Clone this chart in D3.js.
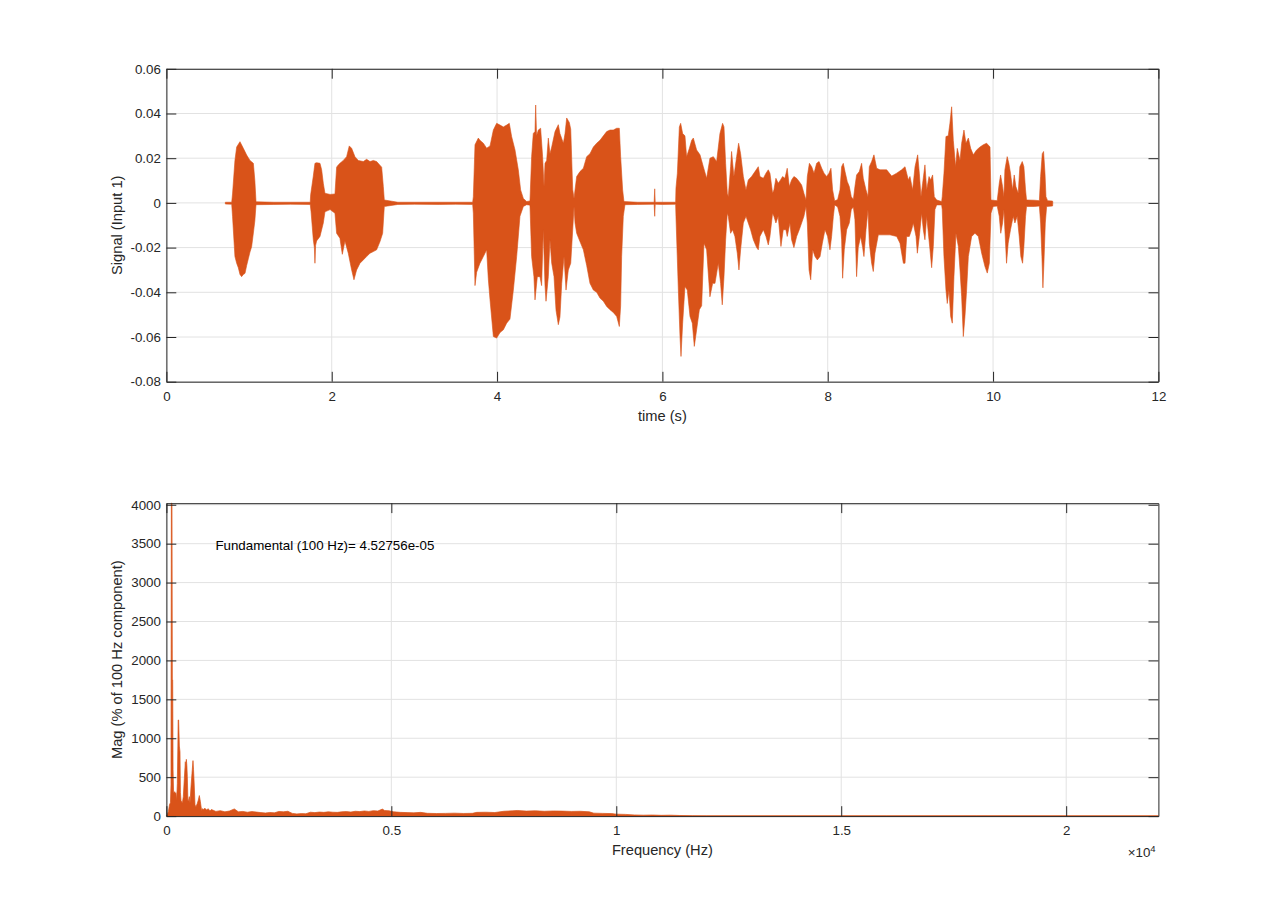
<!DOCTYPE html>
<html><head><meta charset="utf-8">
<script src="https://cdn.jsdelivr.net/npm/d3@7"></script>
<style>
html,body{margin:0;padding:0;background:#fff;}
svg{display:block;}
text{font-family:"Liberation Sans", Arial, Helvetica, sans-serif;}
</style></head><body>
<svg id="chart" width="1280" height="917"></svg>
<script>
// ---------- DATA ----------
// Signal envelope (upper edge), time in s
const sigTopT = [0.713,0.79,0.80,0.829,0.85,0.89,0.931,0.971,1.011,1.052,1.07,1.084,1.30,1.50,1.74,
1.745,1.777,1.797,1.817,1.858,1.878,1.898,1.918,1.98,2.039,2.059,2.079,2.099,2.14,2.18,2.212,2.241,2.281,2.321,2.382,2.422,2.463,2.503,2.543,2.604,2.624,2.636,
2.8,3.0,3.3,3.5,3.705,
3.713,3.733,3.773,3.793,3.834,3.874,3.915,3.955,3.995,4.036,4.076,4.116,4.148,4.176,4.217,4.257,4.285,4.318,4.358,4.398,
4.418,4.438,4.459,4.467,4.478,4.499,4.527,4.551,4.568,4.58,4.6,4.62,4.64,4.661,4.701,4.741,4.761,4.802,4.822,4.842,4.874,4.891,4.915,4.931,
4.943,4.963,5.003,5.044,5.084,5.124,5.165,5.205,5.245,5.286,5.326,5.366,5.406,5.447,5.479,5.495,5.519,5.535,
5.7,5.9,5.907,5.913,6.0,6.16,
6.164,6.181,6.205,6.221,6.245,6.273,6.293,6.326,6.354,6.374,6.414,6.455,6.495,6.535,6.575,6.616,6.656,6.696,6.728,6.745,6.765,6.785,
6.797,6.825,6.837,6.865,6.898,6.922,6.946,6.979,7.011,7.039,7.079,7.12,7.16,7.18,7.221,7.253,7.281,7.301,7.333,
7.349,7.373,7.401,7.429,7.454,7.482,7.51,7.535,7.563,7.591,7.624,7.656,7.684,7.712,7.737,
7.753,7.778,7.806,7.834,7.866,7.895,7.927,7.955,7.987,8.015,8.039,8.059,8.084,8.12,
8.148,8.168,8.188,8.209,8.237,8.261,8.285,8.31,
8.329,8.349,8.382,8.41,8.43,8.463,8.487,
8.503,8.531,8.559,8.592,8.632,8.713,8.773,8.834,8.894,8.935,8.975,8.995,9.027,9.056,9.088,9.108,9.128,9.148,9.176,9.197,9.225,9.245,9.269,9.289,9.318,9.378,
9.385,9.406,9.43,9.458,9.478,9.499,9.519,9.547,9.567,9.6,9.62,9.648,9.672,9.701,9.729,9.761,9.801,9.842,9.882,9.922,9.963,9.975,
10.0,10.05,10.075,10.091,10.115,10.131,10.143,10.171,10.191,10.211,10.236,10.256,10.276,10.304,10.324,10.353,10.373,10.393,10.405,10.5,10.56,
10.575,10.595,10.611,10.628,10.64,10.66,10.72,10.722];
const sigTopV = [0.0003,0.0003,0.004,0.019,0.025,0.0274,0.0244,0.0214,0.019,0.0177,0.010,0.0005,0.0003,0.0003,0.0003,
0.0036,0.012,0.0177,0.018,0.0177,0.0148,0.0088,0.0043,0.0038,0.004,0.016,0.017,0.0177,0.019,0.0207,0.0255,0.0244,0.0207,0.019,0.0185,0.0195,0.0185,0.019,0.0185,0.016,0.0073,0.0013,
0.0003,0.0003,0.0003,0.0003,0.0003,
0.0028,0.026,0.029,0.028,0.0267,0.0245,0.0255,0.0326,0.0356,0.0348,0.034,0.0348,0.0356,0.0297,0.0237,0.0148,0.0058,0.002,0.0006,0.0009,
0.0207,0.031,0.032,0.0438,0.030,0.0326,0.0334,0.0207,0.0073,0.0177,0.019,0.029,0.022,0.025,0.0319,0.035,0.031,0.0267,0.031,0.038,0.036,0.033,0.006,0.002,
0.0058,0.0118,0.014,0.0155,0.0207,0.022,0.025,0.0267,0.028,0.030,0.0319,0.0326,0.0326,0.0334,0.0334,0.0207,0.0058,0.0006,
0.0003,0.0003,0.0063,0.0003,0.0003,0.0003,
0.0066,0.0133,0.034,0.0356,0.031,0.030,0.0207,0.0244,0.028,0.029,0.0237,0.0215,0.0162,0.011,0.020,0.0207,0.0185,0.031,0.0356,0.034,0.0177,0.0043,
0.0028,0.0162,0.023,0.0118,0.0207,0.0267,0.022,0.0118,0.0058,0.0103,0.0118,0.014,0.0162,0.0118,0.011,0.0133,0.0148,0.0133,0.0043,
0.0058,0.011,0.0088,0.0103,0.0118,0.011,0.0155,0.0073,0.0103,0.0118,0.011,0.0095,0.008,0.0043,0.0013,
0.0118,0.0177,0.0162,0.0133,0.0177,0.0185,0.0155,0.0133,0.0118,0.0133,0.0155,0.0058,0.0009,0.0015,
0.0058,0.0162,0.0177,0.014,0.0095,0.0073,0.0028,0.0015,
0.0073,0.0125,0.014,0.0177,0.011,0.0058,0.0028,
0.0162,0.0185,0.0215,0.0155,0.0148,0.0148,0.012,0.0133,0.0148,0.0162,0.0103,0.0118,0.0058,0.0162,0.0215,0.0133,0.0028,0.0088,0.017,0.0058,0.0118,0.0103,0.0125,0.0028,0.0013,0.0006,
0.0028,0.0133,0.0297,0.030,0.0356,0.043,0.028,0.0162,0.0244,0.019,0.0267,0.0326,0.0267,0.029,0.0244,0.0215,0.0237,0.025,0.026,0.0267,0.025,0.0013,
0.0012,0.0010,0.0088,0.0125,0.0073,0.0028,0.0148,0.0207,0.0177,0.0133,0.0058,0.0125,0.0073,0.0043,0.0162,0.0185,0.0162,0.0058,0.0013,0.0012,0.0010,
0.0118,0.022,0.023,0.0133,0.0028,0.0010,0.0008,0.0003];
// Signal envelope (lower edge)
const sigBotT = [0.713,0.79,0.80,0.829,0.85,0.87,0.89,0.91,0.931,0.951,0.971,0.991,1.011,1.031,1.052,1.07,1.084,1.30,1.50,1.74,
1.75,1.777,1.79,1.797,1.805,1.817,1.858,1.898,1.918,1.98,2.039,2.059,2.099,2.128,2.16,2.2,2.241,2.269,2.301,2.342,2.382,2.422,2.463,2.503,2.543,2.584,2.616,2.636,
2.8,3.0,3.3,3.5,3.705,
3.713,3.733,3.753,3.793,3.834,3.874,3.894,3.915,3.955,3.995,4.036,4.076,4.116,4.156,4.197,4.237,4.277,4.318,4.358,4.398,
4.418,4.446,4.459,4.487,4.519,4.539,4.559,4.58,4.592,4.62,4.64,4.661,4.689,4.713,4.741,4.761,4.782,4.81,4.834,4.862,4.891,4.915,4.931,
4.943,4.963,5.003,5.044,5.084,5.124,5.165,5.205,5.245,5.286,5.326,5.366,5.406,5.447,5.479,5.495,5.507,5.527,5.547,
5.7,5.9,5.907,5.913,6.0,6.16,
6.164,6.193,6.213,6.225,6.245,6.273,6.301,6.334,6.362,6.386,6.414,6.447,6.475,6.503,6.535,6.575,6.608,6.636,6.676,6.704,6.724,6.745,6.765,6.785,
6.797,6.825,6.849,6.877,6.906,6.926,6.946,6.979,7.011,7.039,7.067,7.1,7.14,7.16,7.18,7.221,7.253,7.281,7.301,7.333,
7.349,7.373,7.401,7.434,7.462,7.494,7.51,7.543,7.563,7.591,7.624,7.656,7.684,7.712,7.737,
7.753,7.774,7.794,7.818,7.846,7.874,7.907,7.935,7.967,7.999,8.027,8.047,8.068,8.084,8.12,
8.148,8.168,8.18,8.2,8.229,8.261,8.285,8.31,
8.329,8.349,8.369,8.398,8.422,8.438,8.463,8.487,
8.503,8.531,8.551,8.571,8.612,8.673,8.753,8.834,8.874,8.915,8.935,8.955,8.987,9.015,9.035,9.068,9.084,9.108,9.136,9.156,9.176,9.197,9.237,9.257,9.277,9.297,9.318,9.378,
9.385,9.406,9.43,9.446,9.466,9.487,9.507,9.527,9.551,9.58,9.6,9.62,9.64,9.66,9.68,9.701,9.741,9.781,9.822,9.862,9.902,9.93,9.955,9.975,
10.0,10.05,10.075,10.093,10.115,10.131,10.143,10.163,10.183,10.211,10.244,10.264,10.292,10.316,10.336,10.357,10.373,10.393,10.405,10.5,10.56,
10.575,10.591,10.603,10.615,10.632,10.648,10.72,10.722];
const sigBotV = [-0.0005,-0.0006,-0.006,-0.024,-0.027,-0.029,-0.032,-0.033,-0.032,-0.0315,-0.028,-0.025,-0.022,-0.0196,-0.0135,-0.008,-0.0008,-0.0007,-0.0006,-0.0007,
-0.004,-0.0165,-0.020,-0.027,-0.019,-0.017,-0.015,-0.009,-0.004,-0.003,-0.0046,-0.0136,-0.0158,-0.023,-0.017,-0.0225,-0.030,-0.0344,-0.030,-0.027,-0.0255,-0.024,-0.0225,-0.0218,-0.021,-0.0173,-0.0136,-0.0016,
-0.0007,-0.0006,-0.0007,-0.0006,-0.0007,
-0.0046,-0.037,-0.031,-0.027,-0.024,-0.021,-0.034,-0.0434,-0.0598,-0.0605,-0.058,-0.0568,-0.0538,-0.052,-0.039,-0.024,-0.006,-0.0016,-0.0008,-0.0010,
-0.024,-0.033,-0.0434,-0.033,-0.033,-0.037,-0.012,-0.037,-0.044,-0.033,-0.0165,-0.027,-0.033,-0.048,-0.0545,-0.051,-0.036,-0.024,-0.039,-0.030,-0.027,-0.012,-0.0016,
-0.009,-0.0136,-0.0173,-0.021,-0.028,-0.036,-0.039,-0.040,-0.0426,-0.044,-0.0463,-0.0478,-0.049,-0.0508,-0.0553,-0.046,-0.024,-0.006,-0.0008,
-0.0007,-0.0006,-0.006,-0.0006,-0.0007,-0.0006,
-0.006,-0.039,-0.0598,-0.0687,-0.0538,-0.0374,-0.039,-0.0508,-0.0538,-0.0642,-0.0568,-0.0478,-0.046,-0.018,-0.021,-0.042,-0.036,-0.036,-0.027,-0.036,-0.0456,-0.033,-0.0165,-0.0046,
-0.006,-0.0136,-0.012,-0.015,-0.0225,-0.030,-0.021,-0.009,-0.006,-0.009,-0.012,-0.0165,-0.020,-0.021,-0.015,-0.012,-0.015,-0.0188,-0.015,-0.0046,
-0.006,-0.009,-0.006,-0.0195,-0.012,-0.012,-0.015,-0.009,-0.0165,-0.020,-0.015,-0.012,-0.009,-0.006,-0.0016,
-0.009,-0.030,-0.0344,-0.021,-0.024,-0.0255,-0.024,-0.018,-0.012,-0.015,-0.021,-0.015,-0.006,-0.0009,-0.0018,
-0.006,-0.0165,-0.0337,-0.021,-0.012,-0.009,-0.003,-0.0018,
-0.0075,-0.033,-0.020,-0.015,-0.020,-0.024,-0.012,-0.003,
-0.018,-0.027,-0.0307,-0.0225,-0.0143,-0.0143,-0.0143,-0.015,-0.018,-0.027,-0.027,-0.015,-0.015,-0.012,-0.009,-0.015,-0.0225,-0.015,-0.0046,-0.012,-0.0165,-0.006,-0.021,-0.029,-0.0195,-0.003,-0.0009,-0.0009,
-0.003,-0.024,-0.039,-0.045,-0.039,-0.0508,-0.0538,-0.033,-0.0136,-0.0195,-0.030,-0.042,-0.0598,-0.0508,-0.039,-0.024,-0.015,-0.0136,-0.015,-0.0225,-0.0285,-0.0314,-0.027,-0.0046,
-0.0016,-0.0014,-0.006,-0.0136,-0.009,-0.003,-0.012,-0.027,-0.018,-0.012,-0.006,-0.009,-0.006,-0.015,-0.024,-0.027,-0.0195,-0.006,-0.0016,-0.0016,-0.0014,
-0.009,-0.024,-0.038,-0.027,-0.009,-0.0016,-0.0014,-0.0003];

// Spectrum: frequency (Hz) and magnitude (% of 100 Hz component)
const specF = [0,20,45,70,90,102,110,124,132,140,148,160,184,200,213,228,243,255,262,272,288,302,312,325,354,376,399,421,432,443,455,465,478,488,510,525,547,569,591,603,614,636,658,688,710,732,754,784,800,821,858,895,930,969,1000,1100,1200,1300,1400,1510,1600,1700,1800,1900,2000,2100,2200,2300,2400,2500,2600,2700,2800,2900,3000,3100,3200,3300,3400,3500,3600,3700,3800,3900,4000,4100,4200,4300,4400,4500,4600,4700,4800,4850,4950,5050,5200,5350,5500,5650,5800,6000,6200,6400,6600,6800,6900,7100,7300,7500,7700,7800,8000,8200,8400,8600,8800,9000,9200,9400,9500,9700,9900,10000,10200,10400,10600,10800,11000,11200,11400,11700,12000,14000,16000,18000,20000,22050];
const specM = [5,20,60,150,170,400,4020,4020,1750,1750,600,300,314,290,300,200,420,900,1235,1235,900,827,300,200,164,250,485,699,580,729,650,510,200,190,250,164,378,550,713,600,463,143,121,164,207,264,190,64,95,86,100,78,95,64,85,60,70,55,65,92,55,60,50,58,52,45,40,47,42,60,55,62,35,28,32,30,50,45,52,48,55,50,48,55,58,52,62,58,66,60,70,65,90,72,68,55,48,45,42,48,36,33,35,38,34,36,48,50,46,62,68,72,64,68,62,66,64,60,62,55,38,35,32,25,22,15,12,14,10,12,8,5,3,3,3,4,3,3];

// Ticks and labels
const timeTicks = [0,2,4,6,8,10,12];
const timeTickLabels = ["0","2","4","6","8","10","12"];
const sigTicks = [-0.08,-0.06,-0.04,-0.02,0,0.02,0.04,0.06];
const sigTickLabels = ["-0.08","-0.06","-0.04","-0.02","0","0.02","0.04","0.06"];
const freqTicks = [0,5000,10000,15000,20000];
const freqTickLabels = ["0","0.5","1","1.5","2"];
const magTicks = [0,500,1000,1500,2000,2500,3000,3500,4000];
const magTickLabels = ["0","500","1000","1500","2000","2500","3000","3500","4000"];

const labels = {
  topX: "time (s)", topY: "Signal (Input 1)",
  botX: "Frequency (Hz)", botY: "Mag (% of 100 Hz component)",
  note: "Fundamental (100 Hz)= 4.52756e-05"
};
const noteAt = [1000, 3500];

// ---------- DRAW ----------
const COLOR = "#D95319", AX = "#262626", GRID = "#e2e2e2";
const svg = d3.select("#chart");
svg.append("rect").attr("width",1280).attr("height",917).attr("fill","#fff");

const L = 166.4, R = 1158.4;
const T1 = 68.8, B1 = 381.7, T2 = 503.2, B2 = 816.1;
const TICK = 9.9;

const xT = d3.scaleLinear().domain([0,12]).range([L,R]);
const yT = d3.scaleLinear().domain([-0.08,0.06]).range([B1,T1]);
const xF = d3.scaleLinear().domain([0,22050]).range([L,R]);
const yF = d3.scaleLinear().domain([0,4020]).range([B2,T2]);

function grid(x, y, xt, yt) {
  const g = svg.append("g").attr("stroke", GRID).attr("stroke-width", 1);
  xt.forEach(v => g.append("line").attr("x1", x(v)).attr("x2", x(v)).attr("y1", y.range()[1]).attr("y2", y.range()[0]));
  yt.forEach(v => g.append("line").attr("x1", x.range()[0]).attr("x2", x.range()[1]).attr("y1", y(v)).attr("y2", y(v)));
}

function axes(x, y, xt, xl, yt, yl) {
  const top = y.range()[1], bot = y.range()[0], left = x.range()[0], right = x.range()[1];
  const style = sel => {
    sel.selectAll(".domain").attr("stroke", AX).attr("stroke-width", 1);
    sel.selectAll(".tick line").attr("stroke", AX).attr("stroke-width", 1);
    sel.selectAll("text").attr("fill", AX).attr("font-size", "13.33px")
      .attr("font-family", '"Liberation Sans", Arial, Helvetica, sans-serif');
    sel.attr("font-family", null).attr("font-size", null);
  };
  svg.append("g").attr("transform", `translate(0,${bot})`)
    .call(d3.axisBottom(x).tickValues(xt).tickFormat((d,i)=>xl[i]).tickSizeInner(-TICK).tickSizeOuter(0).tickPadding(9.5)).call(style);
  svg.append("g").attr("transform", `translate(0,${top})`)
    .call(d3.axisTop(x).tickValues(xt).tickFormat("").tickSizeInner(-TICK).tickSizeOuter(0)).call(style);
  svg.append("g").attr("transform", `translate(${left},0)`)
    .call(d3.axisLeft(y).tickValues(yt).tickFormat((d,i)=>yl[i]).tickSizeInner(-TICK).tickSizeOuter(0).tickPadding(5.5)).call(style);
  svg.append("g").attr("transform", `translate(${right},0)`)
    .call(d3.axisRight(y).tickValues(yt).tickFormat("").tickSizeInner(-TICK).tickSizeOuter(0)).call(style);
}

// ---- Top subplot ----
grid(xT, yT, timeTicks, sigTicks);
const topPts = sigTopT.map((t,i)=>[t, sigTopV[i]]);
const botPts = sigBotT.map((t,i)=>[t, sigBotV[i]]).reverse();
const sigLine = d3.line().x(d=>xT(d[0])).y(d=>yT(d[1]));
svg.append("path").attr("d", sigLine(topPts.concat(botPts)) + "Z")
  .attr("fill", COLOR).attr("stroke", COLOR).attr("stroke-width", 0.6).attr("stroke-linejoin","miter");
axes(xT, yT, timeTicks, timeTickLabels, sigTicks, sigTickLabels);

// ---- Bottom subplot ----
grid(xF, yF, freqTicks, magTicks);
const specPts = specF.map((f,i)=>[f, specM[i]]);
const specArea = d3.area().x(d=>xF(d[0])).y0(yF(0)).y1(d=>yF(d[1]));
svg.append("path").attr("d", specArea(specPts))
  .attr("fill", COLOR).attr("stroke", COLOR).attr("stroke-width", 0.7);
axes(xF, yF, freqTicks, freqTickLabels, magTicks, magTickLabels);

// ---- Texts ----
const txt = (x, y, s, size, anchor) => svg.append("text").attr("x", x).attr("y", y)
  .attr("font-size", size).attr("fill", AX).attr("text-anchor", anchor || "middle").text(s);

txt((L+R)/2, B1 + 39, labels.topX, "14.67px");
txt((L+R)/2, B2 + 39, labels.botX, "14.67px");
svg.append("text").attr("transform", `translate(122.2,${(T1+B1)/2}) rotate(-90)`)
  .attr("text-anchor","middle").attr("font-size","14.67px").attr("fill",AX).text(labels.topY);
svg.append("text").attr("transform", `translate(122.2,${(T2+B2)/2}) rotate(-90)`)
  .attr("text-anchor","middle").attr("font-size","14.67px").attr("fill",AX).text(labels.botY);

svg.append("text").attr("x", xF(noteAt[0]) + 4).attr("y", yF(noteAt[1])).attr("dy","0.5em")
  .attr("font-size","13.33px").attr("fill","#000").text(labels.note);

const ex = svg.append("text").attr("x", 1127.7).attr("y", B2 + 41).attr("font-size","13.33px").attr("fill",AX);
ex.append("tspan").text("\u00d710");
ex.append("tspan").attr("font-size","9.5px").attr("dy", -5.5).text("4");
</script>
</body></html>
